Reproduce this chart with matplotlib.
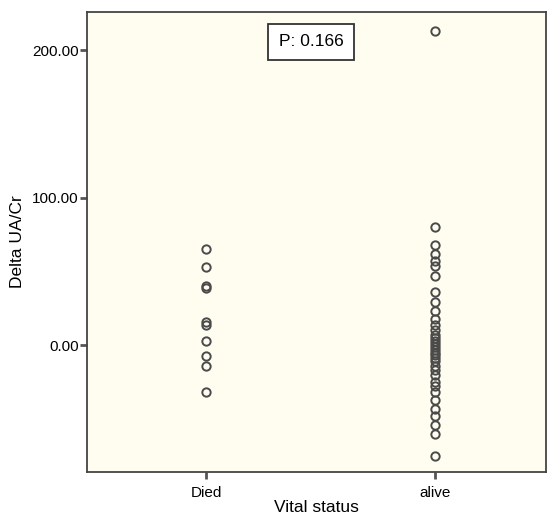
import matplotlib
matplotlib.use("Agg")
import matplotlib.pyplot as plt

categories = ["Died", "alive"]
died = [65, 53, 40, 38.5, 16, 14, 3, -7.5, -14, -32]
alive = [213, 80, 68, 62, 57, 54, 47, 36, 29, 23, 18, 14, 10, 7, 5, 3, 1,
         -1, -3, -5, -7, -9, -11, -14, -17, -20, -25, -28, -32, -37, -43,
         -48, -54, -60, -75]
yticks = [0, 100, 200]
p_text = "P: 0.166"

plt.rcParams.update({"font.family": ["Liberation Sans", "DejaVu Sans"]})
fig = plt.figure(figsize=(5.48, 5.15), dpi=100)
ax = fig.add_axes([0.159, 0.0835, 0.837, 0.8935])
ax.set_facecolor("#fffdf0")

for i, vals in enumerate([died, alive]):
    ax.plot([i] * len(vals), vals, "o", ms=6, mfc="none", mec="#4a4a4a",
            mew=1.4, ls="none")

ax.set_xlim(-0.52, 1.485)
ax.set_ylim(-86, 226)
ax.set_xticks([0, 1])
ax.set_xticklabels(categories, fontsize=11)
ax.set_yticks(yticks)
ax.set_yticklabels([f"{v:.2f}" for v in yticks], fontsize=11)
ax.tick_params(direction="out", length=5, width=2, color="#555555", pad=1)
ax.tick_params(axis="x", pad=5)
for s in ax.spines.values():
    s.set_linewidth(1.3)
    s.set_color("#444444")
ax.set_xlabel("Vital status", fontsize=12.5, labelpad=0)
ax.set_ylabel("Delta UA/Cr", fontsize=12.5, labelpad=5)

ax.text(0.488, 0.935, p_text, transform=ax.transAxes, ha="center", va="center",
        fontsize=12.5, bbox=dict(boxstyle="square,pad=0.6", fc="white",
                                 ec="#333333", lw=1.3))

fig.savefig("out.png", dpi=100)
